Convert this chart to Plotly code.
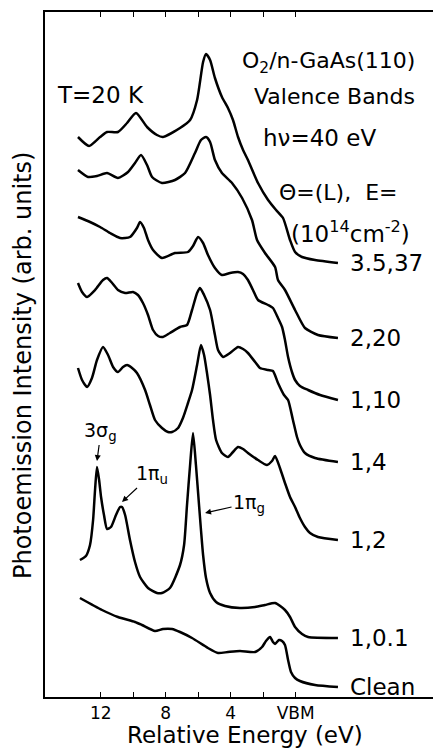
import plotly.graph_objects as go

# ---- data (energy in eV relative to VBM, intensity in arb. units incl. vertical offset) ----
labels = ["3.5,37", "2,20", "1,10", "1,4", "1,2", "1,0.1", "Clean"]

e_3p5_37 = [13.40,12.72,12.04,11.61,10.94,10.38,9.83,9.15,8.54,8.17,7.12,6.50,6.07,5.70,5.52,5.27,4.97,4.54,4.17,3.86,3.55,3.24,2.94,2.32,1.70,1.21,0.78,0.35,0.04,-0.39,-1.19,-2.60]
i_3p5_37 = [560,551,560,565,565,574,584,570,562,560,569,577,597,635,643,637,619,600,589,577,560,547,537,514,497,487,479,457,445,440,437,434]

e_2_20 = [13.40,12.78,12.23,11.61,10.94,10.32,9.89,9.52,9.15,8.84,8.23,7.43,6.81,6.20,5.83,5.52,5.27,4.97,4.54,3.92,3.30,2.69,2.38,1.89,1.27,1.09,0.66,0.04,-0.57,-1.37,-2.60]
i_2_20 = [527,520,521,524,519,525,534,542,532,520,514,517,524,544,557,560,555,537,524,514,499,477,457,444,430,417,407,387,369,362,359]

e_1_10 = [13.40,12.66,12.04,11.43,10.81,10.20,9.77,9.58,9.34,9.09,8.78,8.23,7.43,6.63,6.32,6.01,5.70,5.40,4.97,4.54,4.04,3.55,3.24,2.94,2.63,2.32,1.70,1.40,1.09,0.84,0.66,0.47,0.23,0.04,-0.26,-0.76,-1.50,-2.60]
i_1_10 = [480,475,470,464,459,460,469,475,469,457,447,439,444,445,451,460,454,442,429,422,424,425,423,417,407,397,392,389,379,370,357,340,325,317,311,307,302,297]

e_1_4 = [13.40,13.15,12.84,12.35,11.86,11.61,11.30,10.94,10.50,10.01,9.71,9.40,9.09,8.78,8.47,8.17,7.74,7.12,6.69,6.38,6.07,5.89,5.64,5.27,4.97,4.78,4.47,4.04,3.55,3.24,2.94,2.50,2.20,1.70,1.40,1.09,0.72,0.47,0.17,-0.08,-0.26,-0.57,-1.19,-2.60]
i_1_4 = [414,405,400,407,417,419,414,407,404,405,402,394,382,367,361,360,364,370,372,387,404,409,402,387,362,347,340,344,350,348,344,335,329,327,326,314,302,297,277,260,252,244,239,235]

e_1_2 = [13.40,13.15,12.84,12.54,12.23,11.86,11.55,11.24,10.94,10.63,10.38,10.07,9.77,9.27,8.97,8.66,8.23,7.86,7.61,7.24,6.94,6.63,6.38,6.07,5.83,5.64,5.46,5.27,5.09,4.90,4.54,4.17,3.86,3.55,3.24,2.94,2.32,1.77,1.46,1.27,0.97,0.66,0.35,0.04,-0.26,-0.57,-0.88,-1.37,-2.60]
i_1_2 = [329,317,310,319,337,350,342,330,325,330,332,329,324,307,292,277,269,265,265,269,279,294,307,332,352,342,324,302,277,257,244,240,245,250,248,244,237,232,236,241,229,214,200,190,179,170,164,160,157]

e_1_0p1 = [13.28,12.91,12.66,12.47,12.35,12.23,12.10,11.98,11.80,11.61,11.37,11.06,10.81,10.69,10.50,10.20,9.89,9.58,9.09,8.54,8.23,7.74,7.12,6.87,6.69,6.50,6.32,6.14,5.95,5.83,5.70,5.52,5.27,4.90,4.35,3.43,2.50,1.89,1.27,0.66,0.35,0.04,-0.39,-0.76,-2.60]
i_1_0p1 = [137,141,152,177,207,230,217,200,182,168,170,182,190,190,182,157,135,120,109,104,104,109,132,152,192,232,264,232,192,167,142,119,104,95,91,89,90,92,94,87,80,70,63,60,59]

e_clean = [13.28,11.92,10.94,9.89,9.46,8.66,8.17,7.61,7.12,6.38,5.40,4.78,4.17,3.43,2.50,2.07,1.83,1.58,1.40,1.27,1.03,0.84,0.66,0.47,0.29,0.04,-0.26,-1.19,-2.60]
i_clean = [99,87,80,75,72,66,68,68,65,59,49,44,45,46,45,50,56,60,55,53,57,56,52,37,25,19,16,12,10]

energies = [e_3p5_37, e_2_20, e_1_10, e_1_4, e_1_2, e_1_0p1, e_clean]
intens = [i_3p5_37, i_2_20, i_1_10, i_1_4, i_1_2, i_1_0p1, i_clean]

tick_vals = [12, 8, 4, 0]
tick_text = ["12", "8", "4", "VBM"]
minor_tick_vals = [10, 6, 2]

# ---- figure ----
W, H = 433, 753
ML, MR, MT, MB = 45, 0, 12, 56
PW, PH = W - ML - MR, H - MT - MB

def px(x):  # pixel -> paper x
    return (x - ML) / PW

def py(y):  # pixel -> paper y
    return (H - MB - y) / PH

FONT = "DejaVu Sans"

def f(size):
    return dict(family=FONT, size=size, color="black")

fig = go.Figure()
for lab, e, i in zip(labels, energies, intens):
    assert len(e) == len(i)
    fig.add_trace(go.Scatter(x=e, y=i, mode="lines", name=lab,
                             line=dict(color="black", width=2.5, shape="spline", smoothing=0.6),
                             showlegend=False, hoverinfo="skip"))

ann = []
# curve labels at right ends
for lab, i in zip(labels, intens):
    ann.append(dict(x=px(348), y=i[-1], xref="paper", yref="y", text=lab, showarrow=False,
                    xanchor="left", yanchor="middle", font=f(23)))

txt = [
    ("T=20 K", 55, 95, 23),
    ("O<sub>2</sub>/n-GaAs(110)", 240, 63, 22),
    ("Valence Bands", 252, 97, 22),
    ("hν=40 eV", 261, 138, 23),
    ("Θ=(L),  E=", 277, 192, 22),
    ("(10<sup>14</sup>cm<sup>-2</sup>)", 289, 232, 23),
]
for t, x, y, s in txt:
    ann.append(dict(x=px(x), y=py(y), xref="paper", yref="paper", text=t, showarrow=False,
                    xanchor="left", yanchor="middle", font=f(s)))

# peak assignments with arrows
peaks = [("3σ<sub>g</sub>", 12.23, 236, 4, -30),
         ("1π<sub>u</sub>", 10.69, 195, 30, -28),
         ("1π<sub>g</sub>", 5.58, 184, 44, -10)]
for t, x, y, ax, ay in peaks:
    ann.append(dict(x=x, y=y, xref="x", yref="y", text=t, showarrow=True, ax=ax, ay=ay,
                    arrowhead=2, arrowsize=1, arrowwidth=1.2, arrowcolor="black",
                    font=f(19)))

# axis titles
ann.append(dict(x=px(23), y=py(366), xref="paper", yref="paper",
                text="Photoemission Intensity (arb. units)", textangle=-90, showarrow=False,
                xanchor="center", yanchor="middle", font=f(24)))
ann.append(dict(x=px(245), y=py(735), xref="paper", yref="paper",
                text="Relative Energy (eV)", showarrow=False,
                xanchor="center", yanchor="middle", font=f(23)))

fig.update_layout(
    width=W, height=H, margin=dict(l=ML, r=MR, t=MT, b=MB),
    paper_bgcolor="white", plot_bgcolor="white",
    font=f(16),
    annotations=ann,
    xaxis=dict(range=[15.43, -8.45], showgrid=False, zeroline=False,
               showline=True, linecolor="black", linewidth=1.5, mirror="ticks",
               ticks="inside", ticklen=5, tickwidth=1.2, tickcolor="black",
               tickmode="array", tickvals=tick_vals, ticktext=tick_text, tickfont=f(17),
               minor=dict(tickmode="array", tickvals=minor_tick_vals, ticks="inside",
                          ticklen=5, tickwidth=1.2, tickcolor="black", showgrid=False)),
    yaxis=dict(range=[0, 685], showgrid=False, zeroline=False,
               showline=True, linecolor="black", linewidth=1.5,
               showticklabels=False, ticks=""),
)
fig.write_html("out.html")
